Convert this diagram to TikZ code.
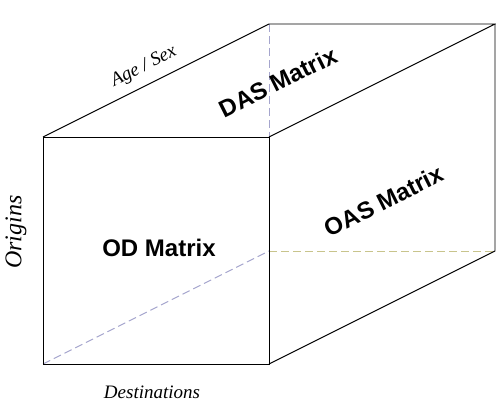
\documentclass[tikz,border=0pt]{standalone}
\usepackage{fontspec}
\setmainfont{Liberation Serif}
\newfontfamily\matrixfont{Liberation Sans}
\usetikzlibrary{calc}
\definecolor{hiddenblue}{RGB}{165,165,205}
\definecolor{hiddenkhaki}{RGB}{200,196,140}

\begin{document}
\begin{tikzpicture}[x=1pt, y=1pt,
    edge/.style={line width=0.9pt, black},
    hidden/.style={line width=0.9pt, hiddenblue, dash pattern=on 8pt off 4pt},
    matrixlabel/.style={font=\matrixfont\bfseries\fontsize{24}{28}\selectfont, inner sep=0pt},
    axislabel/.style={font=\itshape\fontsize{19}{22}\selectfont, inner sep=0pt}]
        \useasboundingbox (0,0) rectangle (496,402);
        % Front face corners
        \coordinate (ftl) at (43,265);
        \coordinate (ftr) at (269,265);
        \coordinate (fbr) at (269,38);
        \coordinate (fbl) at (43,38);
        % Back face corners
        \coordinate (btl) at (269,378);
        \coordinate (btr) at (495,378);
        \coordinate (bbr) at (495,151);
        \coordinate (bbl) at (269,151);
        
        % Hidden edges
        \draw[hidden] (btl) -- (bbl);
        \draw[hidden] (fbl) -- (bbl);
        \draw[hidden, hiddenkhaki] (bbl) -- (bbr);
        
        % Visible edges
        \draw[edge] (ftl) -- (ftr) -- (fbr) -- (fbl) -- cycle;
        \draw[edge] (ftl) -- (btl) -- (btr) -- (ftr);
        \draw[edge] (btr) -- (bbr) -- (fbr);
        
        % Faces
        \node[matrixlabel] (od) at (159,154) {OD Matrix};
        \node[matrixlabel, rotate=26.57] (das) at (278,320) {DAS Matrix};
        \node[matrixlabel, rotate=26.57] (oas) at (384,201) {OAS Matrix};
        
        % Axes
        \node[axislabel, rotate=26.57] (agesex) at (144,335) {Age / Sex};
        \node[axislabel, rotate=90, font=\itshape\fontsize{24}{28}\selectfont] (origins) at (16,170) {Origins};
        \node[axislabel] (dest) at (152,10) {Destinations};
        \end{tikzpicture}
\end{document}
